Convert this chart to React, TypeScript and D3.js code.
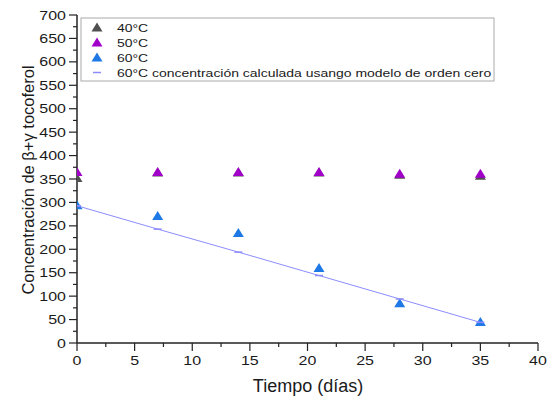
import React from "react";
import * as d3 from "d3";

const days = [0, 7, 14, 21, 28, 35];
const c40 = [352, 364, 364, 364, 359, 357];
const c50 = [365, 365, 365, 365, 361, 361];
const c60 = [294, 271, 235, 160, 85, 45];
const c60calc = [293, 243, 194, 144, 94, 44];
const xTicks = [0, 5, 10, 15, 20, 25, 30, 35, 40];
const yTicks = [0, 50, 100, 150, 200, 250, 300, 350, 400, 450, 500, 550, 600, 650, 700];
const legendLabels = ["40°C", "50°C", "60°C", "60°C concentración calculada usango modelo de orden cero"];
const colors = ["#505050", "#A000C8", "#1E78E6", "#8C8CFF"];

const W = 549, H = 399;
const L = 77, R = 538, T = 15, B = 343;
const SX = 1.2;

function tri(cx: number, cy: number) {
  return `M${cx - 5.5},${cy + 4} L${cx + 5.5},${cy + 4} L${cx},${cy - 5} Z`;
}

export default function App() {
  const x = d3.scaleLinear().domain([0, 40]).range([L, R]);
  const y = d3.scaleLinear().domain([0, 700]).range([B, T]);
  const minorX = d3.range(0, 40.01, 2.5);
  const minorY = d3.range(0, 700.01, 25);
  const line = d3.line<number>().x((_, i) => x(days[i])).y((d) => y(d));
  const series = [c40, c50, c60];
  const font = "'Liberation Sans', Arial, sans-serif";
  const txt = "#1a1a1a";
  return (
    <svg width={W} height={H} style={{ position: "absolute", left: 0, top: 0, background: "#fff" }} fontFamily={font}>
      <defs>
        <clipPath id="plot">
          <rect x={L} y={T - 10} width={R - L} height={B - T + 10} />
        </clipPath>
      </defs>
      <line x1={L} x2={L} y1={T} y2={B} stroke="#222" strokeWidth={1.5} />
      <line x1={L} x2={R} y1={B} y2={B} stroke="#222" strokeWidth={1.5} />
      {minorY.map((v) => (
        <line key={"my" + v} x1={L - (v % 50 === 0 ? 8 : 4)} x2={L} y1={y(v)} y2={y(v)} stroke="#222" strokeWidth={1.2} />
      ))}
      {minorX.map((v) => (
        <line key={"mx" + v} x1={x(v)} x2={x(v)} y1={B} y2={B + (v % 5 === 0 ? 8 : 4)} stroke="#222" strokeWidth={1.2} />
      ))}
      {yTicks.map((v) => (
        <text key={"yt" + v} transform={`translate(${L - 11},${y(v) + 4.6}) scale(${SX},1)`} textAnchor="end" fontSize={13.3} fill={txt}>
          {v}
        </text>
      ))}
      {xTicks.map((v) => (
        <text key={"xt" + v} transform={`translate(${x(v)},${B + 22}) scale(${SX},1)`} textAnchor="middle" fontSize={13.3} fill={txt}>
          {v}
        </text>
      ))}
      <text x={308} y={392} textAnchor="middle" fontSize={18} fill={txt}>
        Tiempo (días)
      </text>
      <text transform={`translate(34,180) rotate(-90)`} textAnchor="middle" fontSize={16.5} fill={txt}>
        Concentración de β+γ tocoferol
      </text>
      <g clipPath="url(#plot)">
        {series.map((s, si) =>
          s.map((v, i) => <path key={`p${si}-${i}`} d={tri(x(days[i]), y(v))} fill={colors[si]} />)
        )}
        <path d={line(c60calc) || ""} fill="none" stroke={colors[3]} strokeWidth={1} />
        {c60calc.map((v, i) => (
          <line key={"dc" + i} x1={x(days[i]) - 4} x2={x(days[i]) + 4} y1={y(v)} y2={y(v)} stroke={colors[3]} strokeWidth={1.5} />
        ))}
      </g>
      <rect x={81} y={18} width={413} height={63} fill="#fff" stroke="#aaa" strokeWidth={1} />
      {legendLabels.map((lab, i) => {
        const cy = 27.5 + i * 15;
        return (
          <g key={"lg" + i}>
            {i < 3 ? (
              <path d={tri(97, cy)} fill={colors[i]} />
            ) : (
              <line x1={93} x2={101} y1={cy} y2={cy} stroke={colors[3]} strokeWidth={1.5} />
            )}
            <text transform={`translate(117,${cy + 4.3}) scale(1.205,1)`} fontSize={11.6} fill={txt}>
              {lab}
            </text>
          </g>
        );
      })}
    </svg>
  );
}
